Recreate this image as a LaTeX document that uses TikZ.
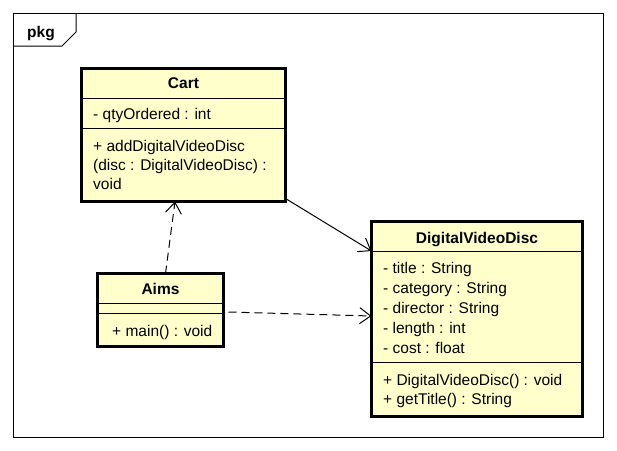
\documentclass[tikz,border=0pt]{standalone}
\usepackage{fontspec}
\setmainfont{Liberation Sans}
\usetikzlibrary{arrows.meta}
\definecolor{classfill}{RGB}{255,255,204}
\begin{document}
\begin{tikzpicture}[x=1pt,y=-1pt,
  every node/.style={font=\fontsize{15.5}{20}\selectfont},
  classbox/.style={draw, line width=3pt, fill=classfill, inner sep=0pt, outer sep=0pt},
  divider/.style={line width=1pt},
  member/.style={anchor=base west, inner sep=0pt},
  title/.style={anchor=base, inner sep=0pt, font=\fontsize{15.5}{20}\selectfont\bfseries},
  assoc/.style={line width=1pt, -{Straight Barb[length=11pt,width=16pt,line width=1pt]}},
  dep/.style={line width=1pt, dash pattern=on 8pt off 5pt, -{Straight Barb[length=11pt,width=16pt,line width=1pt]}}
]
\useasboundingbox (0,0) rectangle (617,450);
% package frame
\draw[line width=1pt] (13,13) rectangle (603,437);
\draw[line width=1pt] (13,46) -- (62,46) -- (76,32) -- (76,13);
\node[title] (pkg) at (41,37) {pkg};

% Cart
\node[classbox, minimum width=204pt, minimum height=133pt] (cart) at (183.5,135) {};
\draw[divider] (cart.west |- 0,98) -- (cart.east |- 0,98);
\draw[divider] (cart.west |- 0,128) -- (cart.east |- 0,128);
\node[title] (cartname) at (183.5,88) {Cart};
\node[member] (cartattr) at (93,119) {- qtyOrdered : int};
\node[member] (cartm1) at (93,151) {+ addDigitalVideoDisc};
\node[member] (cartm2) at (93,170) {(disc : DigitalVideoDisc) :};
\node[member] (cartm3) at (93,189) {void};

% Aims
\node[classbox, minimum width=126pt, minimum height=73pt] (aims) at (160.5,310) {};
\draw[divider] (aims.west |- 0,303) -- (aims.east |- 0,303);
\draw[divider] (aims.west |- 0,313) -- (aims.east |- 0,313);
\node[title] (aimsname) at (160.5,294) {Aims};
\node[member] (aimsm1) at (112,336) {+ main() : void};

% DigitalVideoDisc
\node[classbox, minimum width=211pt, minimum height=195pt] (dvd) at (477,319) {};
\draw[divider] (dvd.west |- 0,251) -- (dvd.east |- 0,251);
\draw[divider] (dvd.west |- 0,362) -- (dvd.east |- 0,362);
\node[title] (dvdname) at (477,243) {DigitalVideoDisc};
\node[member] (dvda1) at (383,273) {- title : String};
\node[member] (dvda2) at (383,293) {- category : String};
\node[member] (dvda3) at (383,313) {- director : String};
\node[member] (dvda4) at (383,333) {- length : int};
\node[member] (dvda5) at (383,353) {- cost : float};
\node[member] (dvdm1) at (383,385) {+ DigitalVideoDisc() : void};
\node[member] (dvdm2) at (383,404) {+ getTitle() : String};

% connectors
\draw[assoc] ([yshift=3pt]cart.south east) -- (dvd.west |- 0,251);
\draw[dep] ([xshift=5pt]aims.north) -- ([xshift=-8.5pt]cart.south);
\draw[dep] ([xshift=5pt,yshift=-2pt]aims.east) -- ([yshift=3pt]dvd.west);
\end{tikzpicture}
\end{document}
